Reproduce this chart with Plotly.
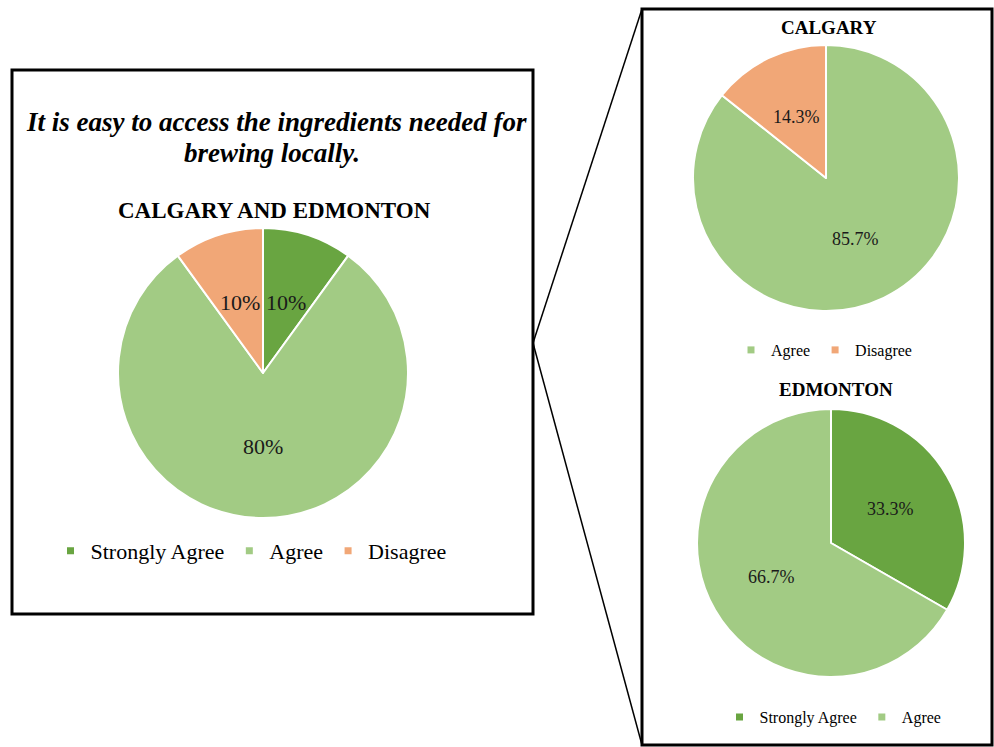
import math
import plotly.graph_objects as go

W, H = 994, 747

# Survey responses
all_labels = ["Strongly Agree", "Agree", "Disagree"]
all_values = [10, 80, 10]

calgary_labels = ["Agree", "Disagree"]
calgary_values = [85.7, 14.3]

edmonton_labels = ["Strongly Agree", "Agree"]
edmonton_values = [33.3, 66.7]

colors = {"Strongly Agree": "#69A541", "Agree": "#A2CB84", "Disagree": "#F1A777"}

SERIF = "Liberation Serif, Times New Roman, serif"


def px_x(x):
    return x / W


def px_y(y):
    return 1 - y / H


def dom(cx, cy, r):
    return dict(x=[px_x(cx - r), px_x(cx + r)], y=[px_y(cy + r), px_y(cy - r)])


def pie(labels, values, cx, cy, r):
    return go.Pie(
        labels=labels,
        values=values,
        domain=dom(cx, cy, r),
        sort=False,
        direction="clockwise",
        rotation=0,
        marker=dict(colors=[colors[l] for l in labels], line=dict(color="white", width=2)),
        textinfo="none",
        hoverinfo="label+value",
        showlegend=False,
    )


def legend_keys(labels, legend):
    # small square swatches, one legend per pie
    return [go.Scatter(x=[None], y=[None], mode="markers", name=l, legend=legend,
                       marker=dict(symbol="square", size=7, color=colors[l]),
                       hoverinfo="skip")
            for l in labels]


def slice_labels(values, cx, cy, r, fsize):
    # value labels at half radius on each slice's bisector (clockwise from 12 o'clock)
    total = sum(values)
    out, cum = [], 0.0
    for v in values:
        ang = 2 * math.pi * (cum + v / 2) / total
        cum += v
        lx = cx + 0.51 * r * math.sin(ang)
        ly = cy - 0.51 * r * math.cos(ang)
        out.append(dict(text=f"{v:g}%", x=px_x(lx), y=px_y(ly), xref="paper", yref="paper",
                        xanchor="center", yanchor="middle", showarrow=False,
                        font=dict(family=SERIF, size=fsize, color="#1a1a1a")))
    return out


PIES = [
    (all_labels, all_values, 263, 373, 145, "legend", 22),
    (calgary_labels, calgary_values, 826, 178, 133, "legend2", 18),
    (edmonton_labels, edmonton_values, 831, 543, 134, "legend3", 18),
]

fig = go.Figure()
annotations = []
for labels, values, cx, cy, r, leg, fs in PIES:
    fig.add_trace(pie(labels, values, cx, cy, r))
    fig.add_traces(legend_keys(labels, leg))
    annotations += slice_labels(values, cx, cy, r, fs)

leg_common = dict(orientation="h", xanchor="center", yanchor="middle",
                  bgcolor="rgba(0,0,0,0)", traceorder="normal", itemwidth=30)

shapes = [
    dict(type="rect", xref="paper", yref="paper",
         x0=px_x(12), x1=px_x(533), y0=px_y(614), y1=px_y(70),
         line=dict(color="black", width=3)),
    dict(type="rect", xref="paper", yref="paper",
         x0=px_x(642), x1=px_x(992), y0=px_y(745), y1=px_y(9),
         line=dict(color="black", width=3)),
    dict(type="line", xref="paper", yref="paper",
         x0=px_x(533), y0=px_y(343), x1=px_x(642), y1=px_y(9),
         line=dict(color="black", width=1.5)),
    dict(type="line", xref="paper", yref="paper",
         x0=px_x(533), y0=px_y(343), x1=px_x(642), y1=px_y(745),
         line=dict(color="black", width=1.5)),
]


def text(t, x, y, size):
    return dict(text=t, x=px_x(x), y=px_y(y), xref="paper", yref="paper",
                xanchor="center", yanchor="middle", showarrow=False,
                font=dict(family=SERIF, size=size, color="black"))


annotations += [
    text("<b><i>It is easy to access the ingredients needed for</i></b>", 276, 122, 27),
    text("<b><i>brewing locally.</i></b>", 272, 153, 27),
    text("<b>CALGARY AND EDMONTON</b>", 274, 211, 23),
    text("<b>CALGARY</b>", 829, 27, 19),
    text("<b>EDMONTON</b>", 836, 389, 19),
]

hidden_axis = dict(visible=False, showgrid=False, zeroline=False)

fig.update_layout(
    width=W, height=H,
    margin=dict(l=0, r=0, t=0, b=0),
    paper_bgcolor="white", plot_bgcolor="rgba(0,0,0,0)",
    xaxis=hidden_axis, yaxis=hidden_axis,
    shapes=shapes, annotations=annotations,
    legend=dict(x=px_x(251), y=px_y(551), font=dict(family=SERIF, size=22, color="black"), **leg_common),
    legend2=dict(x=px_x(824), y=px_y(350), font=dict(family=SERIF, size=16, color="black"), **leg_common),
    legend3=dict(x=px_x(833), y=px_y(717), font=dict(family=SERIF, size=16, color="black"), **leg_common),
)

fig.write_html("out.html")
